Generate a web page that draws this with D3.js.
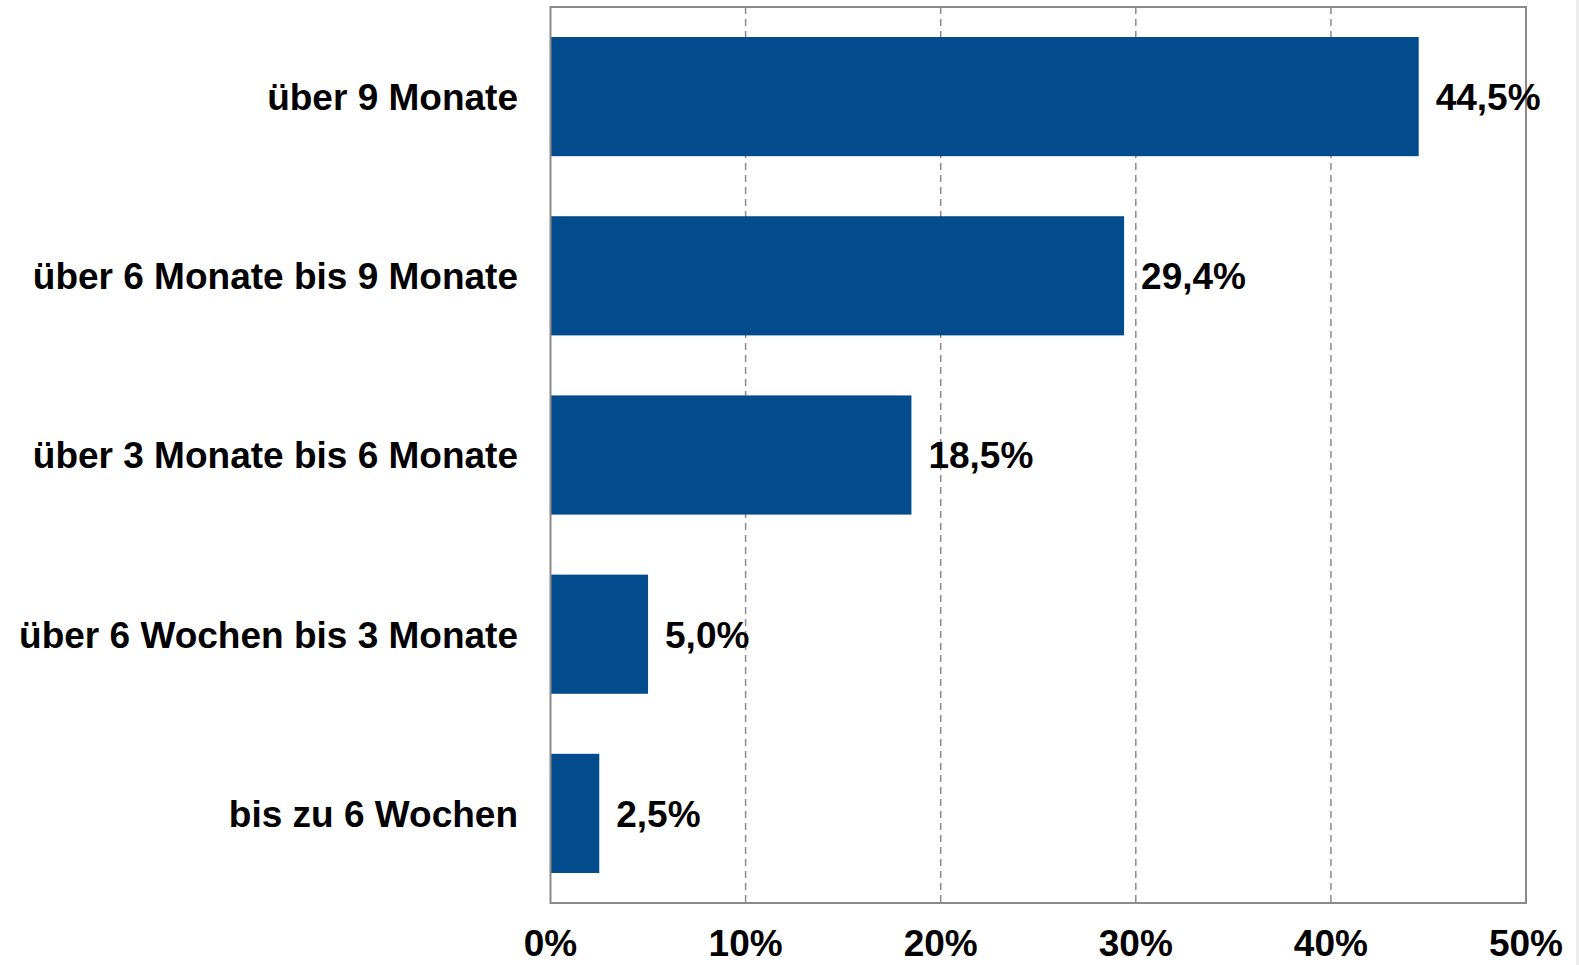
<!DOCTYPE html>
<html>
<head>
<meta charset="utf-8">
<script src="https://cdn.jsdelivr.net/npm/d3@7"></script>
<style>
  body { margin: 0; background: #fff; }
  svg text { font-family: "Liberation Sans", Arial, sans-serif; font-weight: bold; fill: #000; }
</style>
</head>
<body>
<svg id="chart" width="1579" height="965"></svg>
<script>
  // data
  const categories = ['über 9 Monate', 'über 6 Monate bis 9 Monate', 'über 3 Monate bis 6 Monate',
    'über 6 Wochen bis 3 Monate', 'bis zu 6 Wochen'];
  const values = [44.5, 29.4, 18.5, 5.0, 2.5];
  const ticks = [0, 10, 20, 30, 40, 50];

  const width = 1579, height = 965;
  const margin = {top: 7, right: 53, bottom: 62, left: 550.5};
  const svg = d3.select('#chart');

  const x = d3.scaleLinear().domain([0, 50]).range([margin.left, width - margin.right]);
  const y = d3.scaleBand().domain(categories).range([margin.top, height - margin.bottom])
    .paddingInner(0.335).paddingOuter(0.1675);

  // light page edge on the right
  svg.append('rect').attr('x', width - 3).attr('y', 0).attr('width', 3).attr('height', height)
    .attr('fill', '#ececec');

  // grid
  svg.append('g').selectAll('line')
    .data(ticks.filter(t => t > 0 && t < 50))
    .enter().append('line')
    .attr('x1', d => x(d)).attr('x2', d => x(d))
    .attr('y1', margin.top).attr('y2', height - margin.bottom)
    .attr('stroke', '#8a8a8a').attr('stroke-width', 1.5)
    .attr('stroke-dasharray', '7,5');

  // bars
  svg.append('g').selectAll('rect')
    .data(values)
    .enter().append('rect')
    .attr('x', x(0))
    .attr('y', (d, i) => y(categories[i]))
    .attr('width', d => x(d) - x(0))
    .attr('height', y.bandwidth())
    .attr('fill', '#024c8d');

  // frame
  svg.append('rect')
    .attr('x', x(0)).attr('y', margin.top)
    .attr('width', x(50) - x(0)).attr('height', height - margin.bottom - margin.top)
    .attr('fill', 'none').attr('stroke', '#8a8a8a').attr('stroke-width', 2);

  // value labels
  svg.append('g').selectAll('text')
    .data(values)
    .enter().append('text')
    .attr('x', d => x(d) + 17)
    .attr('y', (d, i) => y(categories[i]) + y.bandwidth() / 2)
    .attr('dy', '0.36em')
    .style('font-size', '37px')
    .text(d => d3.format('.1f')(d).replace('.', ',') + '%');

  // category labels
  svg.append('g').selectAll('text')
    .data(categories)
    .enter().append('text')
    .attr('x', 518)
    .attr('y', d => y(d) + y.bandwidth() / 2)
    .attr('dy', '0.36em')
    .attr('text-anchor', 'end')
    .style('font-size', '37px')
    .text(d => d);

  // x tick labels
  svg.append('g').selectAll('text')
    .data(ticks)
    .enter().append('text')
    .attr('x', d => x(d))
    .attr('y', 956)
    .attr('text-anchor', 'middle')
    .style('font-size', '37px')
    .text(d => d + '%');
</script>
</body>
</html>
